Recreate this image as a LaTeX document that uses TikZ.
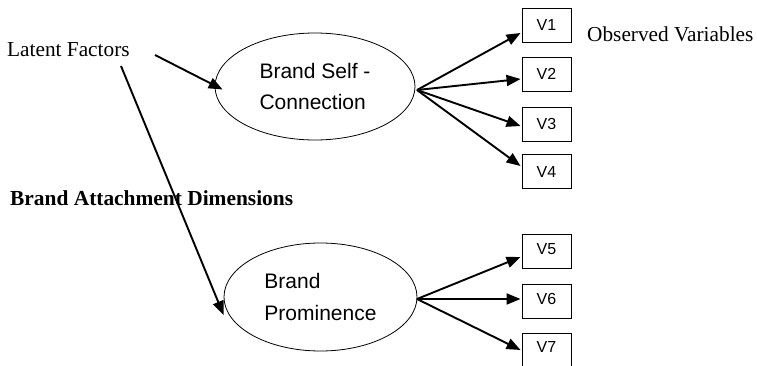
\documentclass[tikz,border=0pt]{standalone}
\usepackage{fontspec}
\setmainfont{Liberation Serif}
\setsansfont{Liberation Sans}
\usetikzlibrary{arrows.meta,shapes.geometric}
\begin{document}
\begin{tikzpicture}[x=1pt,y=-1pt,
  factor/.style={draw,ellipse,line width=0.8pt,inner sep=0pt,
    minimum width=200pt,minimum height=107pt,align=left,
    font=\sffamily\fontsize{21}{31.5}\selectfont},
  obsbox/.style={draw,rectangle,line width=0.9pt,inner sep=0pt,
    minimum width=49pt,minimum height=34pt,
    font=\sffamily\fontsize{16}{19}\selectfont},
  caption/.style={inner sep=0pt,anchor=base west,
    font=\fontsize{21.3}{25}\selectfont},
  link/.style={line width=1.9pt,-{Triangle[length=14pt,width=11pt]}}]
\clip (0,0) rectangle (757,366);

% latent factors
\node[factor] (e1) at (315,86.5) {Brand Self -\\Connection};
\node[factor,minimum width=193pt,minimum height=108pt] (e2) at (320.5,297) {Brand\\Prominence};

% observed variables
\node[obsbox] (v1) at (546.5,25) {V1};
\node[obsbox] (v2) at (546.5,74) {V2};
\node[obsbox] (v3) at (546.5,124) {V3};
\node[obsbox] (v4) at (546.5,171.5) {V4};
\node[obsbox] (v5) at (546.5,251) {\raisebox{4pt}{V5}};
\node[obsbox] (v6) at (546.5,301) {\raisebox{4pt}{V6}};
\node[obsbox] (v7) at (546.5,350) {\raisebox{7pt}{V7}};

% captions
\node[caption] (lf) at (7,57) {Latent Factors};
\node[caption] (ov) at (587,42) {Observed Variables};
\node[caption,font=\bfseries\fontsize{21.4}{25}\selectfont] (bad) at (10,205) {Brand Attachment Dimensions};

\coordinate (lfa) at (155,55);
\coordinate (lfb) at (121,66);
\coordinate (o1) at (417,90);
\coordinate (o2) at (417,299);

% pointers from the caption
\draw[link] (lfa) -- ([xshift=8pt,yshift=-3pt]e1.west);
\draw[link] (lfb) -- ([yshift=-18pt]e2.west);

% loadings
\draw[link] (o1) -- ([xshift=-1pt,yshift=-8pt]v1.west);
\draw[link] (o1) -- ([xshift=-1pt,yshift=-5pt]v2.west);
\draw[link] (o1) -- ([xshift=-1pt,yshift=-2pt]v3.west);
\draw[link] (o1) -- ([xshift=-1pt,yshift=5.5pt]v4.west);
\draw[link] (o2) -- ([xshift=-1pt,yshift=-6pt]v5.west);
\draw[link] (o2) -- ([xshift=-1pt,yshift=2pt]v6.west);
\draw[link] (o2) -- ([xshift=-1pt]v7.west);
\end{tikzpicture}
\end{document}
